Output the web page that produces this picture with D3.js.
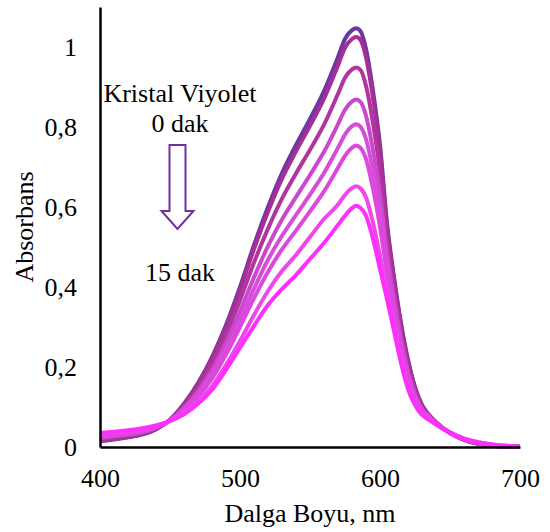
<!DOCTYPE html>
<html>
<head>
<meta charset="utf-8">
<script src="https://cdn.jsdelivr.net/npm/d3@7"></script>
<style>
html,body{margin:0;padding:0;background:#fff;}
svg{display:block;}
text{font-family:"Liberation Serif","Times New Roman",serif;fill:#000;}
</style>
</head>
<body>
<svg id="chart" width="550" height="532"></svg>
<script>
// ---- data ----
const wavelengths = [400,410,420,430,440,450,460,470,480,490,500,510,520,530,540,550,560,570,575,580,583,586,590,595,600,605,610,615,620,625,630,635,640,650,660,670,680,690,700];

const seriesNames = ["0 dak","s2","s4","s6","s8","s10","s12","15 dak"];
const seriesColors = ["#6E35A3","#A52F96","#B0359F","#CC47CF","#D64DD7","#DE47DE","#F046EE","#FF2EFF"];

const a0 = [0.015,0.019,0.024,0.031,0.044,0.068,0.108,0.160,0.225,0.305,0.400,0.505,0.600,0.685,0.755,0.820,0.890,0.975,1.020,1.042,1.047,1.040,0.995,0.890,0.755,0.560,0.425,0.310,0.218,0.150,0.105,0.080,0.062,0.035,0.018,0.008,0.003,0.001,0.000];
const a1 = [0.016,0.020,0.025,0.032,0.045,0.068,0.107,0.157,0.221,0.299,0.392,0.495,0.588,0.671,0.739,0.803,0.871,0.954,0.998,1.020,1.025,1.018,0.974,0.872,0.740,0.551,0.418,0.305,0.214,0.148,0.104,0.080,0.062,0.035,0.018,0.008,0.003,0.001,0.000];
const a2 = [0.019,0.023,0.028,0.035,0.046,0.067,0.102,0.149,0.207,0.280,0.367,0.461,0.546,0.621,0.684,0.743,0.806,0.883,0.923,0.944,0.949,0.943,0.903,0.809,0.687,0.518,0.395,0.288,0.202,0.140,0.100,0.079,0.061,0.035,0.019,0.009,0.004,0.002,0.001];
const a3 = [0.023,0.027,0.031,0.037,0.048,0.067,0.098,0.139,0.192,0.260,0.339,0.424,0.502,0.569,0.625,0.680,0.738,0.807,0.843,0.864,0.869,0.863,0.828,0.742,0.631,0.484,0.371,0.270,0.189,0.132,0.095,0.077,0.060,0.035,0.019,0.010,0.004,0.002,0.001];
const a4 = [0.026,0.029,0.034,0.040,0.049,0.066,0.094,0.132,0.181,0.245,0.318,0.396,0.468,0.528,0.580,0.631,0.685,0.748,0.781,0.802,0.807,0.801,0.770,0.690,0.588,0.457,0.352,0.256,0.179,0.126,0.092,0.075,0.059,0.036,0.020,0.010,0.005,0.002,0.001];
const a5 = [0.028,0.032,0.036,0.042,0.051,0.066,0.091,0.126,0.171,0.231,0.300,0.372,0.438,0.494,0.541,0.589,0.639,0.698,0.728,0.748,0.754,0.748,0.720,0.646,0.550,0.435,0.336,0.244,0.170,0.120,0.089,0.074,0.058,0.036,0.020,0.011,0.005,0.002,0.001];
const a6 = [0.033,0.036,0.040,0.045,0.053,0.065,0.085,0.114,0.152,0.205,0.265,0.330,0.390,0.440,0.480,0.525,0.570,0.606,0.630,0.647,0.652,0.647,0.624,0.561,0.479,0.391,0.305,0.221,0.153,0.110,0.083,0.070,0.057,0.036,0.021,0.012,0.006,0.003,0.002];
const a7 = [0.035,0.038,0.042,0.047,0.054,0.065,0.082,0.108,0.143,0.193,0.248,0.303,0.355,0.395,0.430,0.470,0.510,0.555,0.578,0.597,0.603,0.598,0.578,0.520,0.445,0.370,0.290,0.210,0.145,0.105,0.080,0.068,0.056,0.036,0.021,0.012,0.006,0.003,0.002];
const seriesValues = [a0,a1,a2,a3,a4,a5,a6,a7];

const xTicks = [400,500,600,700];
const yTicks = [0,0.2,0.4,0.6,0.8,1];
const yTickLabels = ["0","0,2","0,4","0,6","0,8","1"];

// ---- chart ----
const svg = d3.select("#chart");
const x = d3.scaleLinear().domain([400,700]).range([100,520]);
const y = d3.scaleLinear().domain([0,1.1]).range([447,7]);
const FS = 26;

const line = d3.line()
  .x(d => x(d[0]))
  .y(d => y(d[1]))
  .curve(d3.curveMonotoneX);

const gLines = svg.append("g");
seriesValues.forEach((vals, i) => {
  gLines.append("path")
    .datum(wavelengths.map((w, j) => [w, vals[j]]))
    .attr("fill", "none")
    .attr("stroke", seriesColors[i])
    .attr("stroke-width", 4)
    .attr("stroke-linejoin", "round")
    .attr("d", line);
});

const xAxis = svg.append("g")
  .attr("transform", "translate(0,447)")
  .call(d3.axisBottom(x).tickValues(xTicks).tickSize(0).tickPadding(21.5).tickFormat(d3.format("d")));
const yAxis = svg.append("g")
  .attr("transform", "translate(100,0)")
  .call(d3.axisLeft(y).tickValues(yTicks).tickSize(0).tickPadding(23)
    .tickFormat((d, i) => yTickLabels[i]));

[xAxis, yAxis].forEach(g => {
  g.select(".domain").attr("stroke", "#000").attr("stroke-width", 2.5);
  g.selectAll("text").attr("font-size", FS)
    .attr("font-family", "'Liberation Serif','Times New Roman',serif").attr("fill", "#000");
});

// axis titles
svg.append("text")
  .attr("x", 310).attr("y", 522)
  .attr("text-anchor", "middle").attr("font-size", FS)
  .text("Dalga Boyu, nm");
svg.append("text")
  .attr("transform", "translate(33,227) rotate(-90)")
  .attr("text-anchor", "middle").attr("font-size", FS)
  .text("Absorbans");

// annotations
svg.append("text").attr("x", 180).attr("y", 102)
  .attr("text-anchor", "middle").attr("font-size", FS).text("Kristal Viyolet");
svg.append("text").attr("x", 180).attr("y", 132)
  .attr("text-anchor", "middle").attr("font-size", FS).text("0 dak");
svg.append("text").attr("x", 180).attr("y", 281)
  .attr("text-anchor", "middle").attr("font-size", FS).text("15 dak");

// hollow arrow
const ax = 177.5;
const arrowPts = [
  [ax-8, 145],[ax+8, 145],[ax+8, 211],[ax+16, 211],
  [ax, 229],[ax-16, 211],[ax-8, 211]
];
svg.append("polygon")
  .attr("points", arrowPts.map(p => p.join(",")).join(" "))
  .attr("fill", "#fff")
  .attr("stroke", "#7030A0")
  .attr("stroke-width", 2);
</script>
</body>
</html>
